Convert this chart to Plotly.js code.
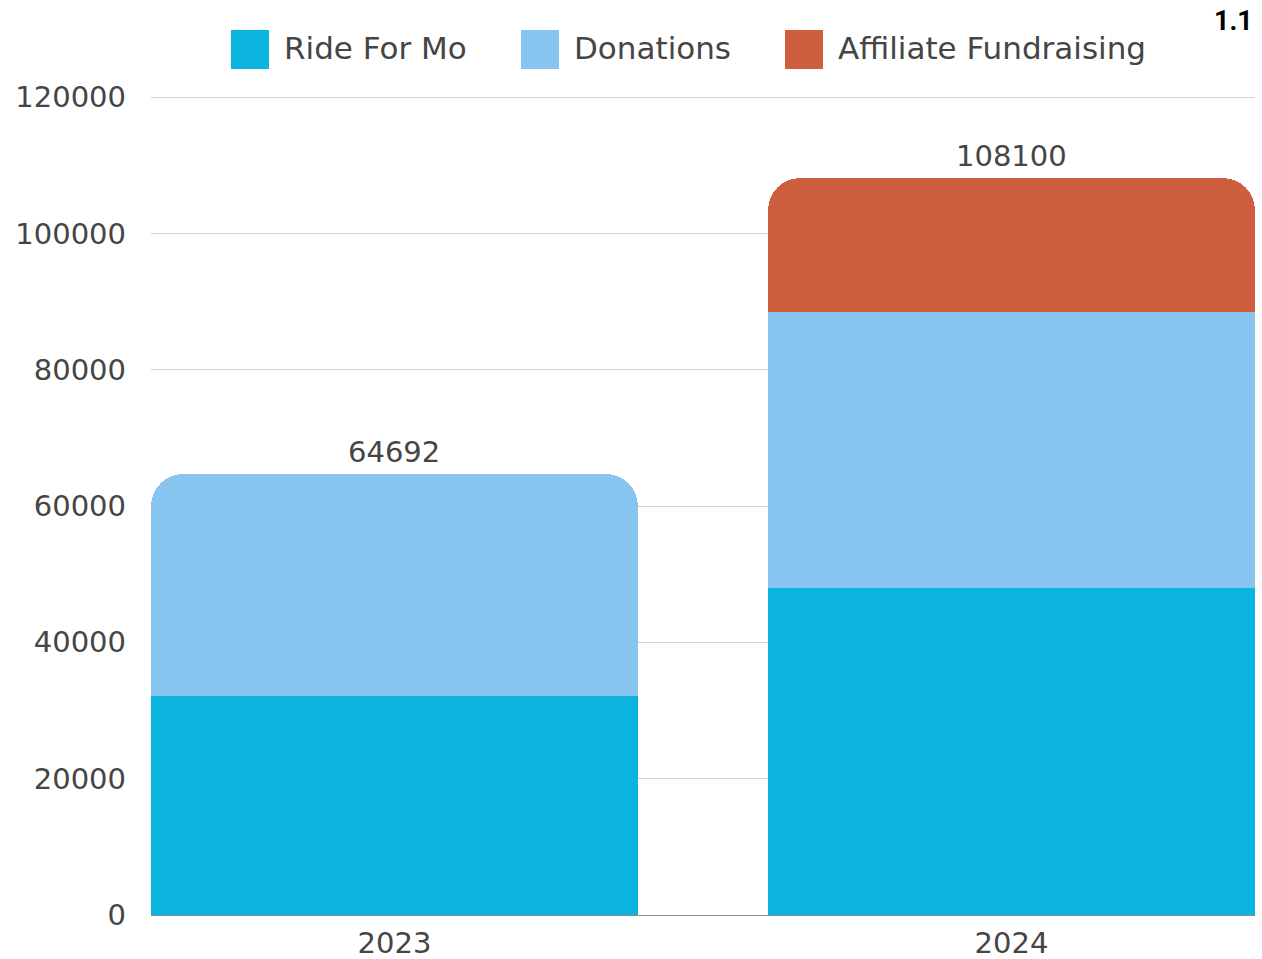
<!DOCTYPE html>
<html>
<head>
<meta charset="utf-8">
<script src="https://cdn.plot.ly/plotly-3.0.1.min.js"></script>
<style>
  html, body { margin: 0; padding: 0; background: #fff; }
  #plot { width: 1262px; height: 959px; }
</style>
</head>
<body>
<div id="plot"></div>
<script>
// data
const years = ['2023', '2024'];
const seriesNames = ['Ride For Mo', 'Donations', 'Affiliate Fundraising'];
const rideForMo = [32100, 48000];
const donations = [32592, 40450];
const affiliate = [0, 19650];
const seriesColors = ['#0AB4DE', '#87C5F0', '#CD5F3F'];
const yTicks = [0, 20000, 40000, 60000, 80000, 100000, 120000];

const seriesValues = [rideForMo, donations, affiliate];
const totals = years.map((_, i) => seriesValues.reduce((s, v) => s + v[i], 0));

const fontFamily = '"DejaVu Sans", "Open Sans", sans-serif';
const textColor = '#454545';

const plotData = seriesValues.map((vals, k) => ({
    type: 'bar',
    x: years,
    y: vals,
    name: seriesNames[k],
    marker: {color: seriesColors[k], line: {width: 0}},
    hoverinfo: 'name+y'
}));

// totals on top of each stack (x given as category index)
const annotations = years.map((yr, i) => ({
    x: i,
    y: totals[i],
    xref: 'x',
    yref: 'y',
    text: String(totals[i]),
    showarrow: false,
    yanchor: 'bottom',
    yshift: 3,
    font: {family: fontFamily, size: 29, color: textColor}
}));

// hand-made legend with large swatches (paper coords)
const plotW = 1104, plotH = 818;
const legendX = [231, 521, 785];
const shapes = [];
seriesNames.forEach((name, k) => {
    shapes.push({
        type: 'rect', xref: 'paper', yref: 'paper',
        x0: (legendX[k] - 151) / plotW, x1: (legendX[k] + 38 - 151) / plotW,
        y0: (915 - 70) / plotH, y1: (915 - 31) / plotH,
        fillcolor: seriesColors[k], line: {width: 0}
    });
    annotations.push({
        xref: 'paper', yref: 'paper',
        x: (legendX[k] + 51 - 151) / plotW, y: (915 - 49) / plotH,
        xanchor: 'left', yanchor: 'middle',
        text: name, showarrow: false,
        font: {family: fontFamily, size: 31, color: textColor}
    });
});

annotations.push({
    xref: 'paper', yref: 'paper',
    x: 1, y: (915 - 22) / plotH,
    xanchor: 'right', yanchor: 'middle',
    text: '<b>1.1</b>', showarrow: false,
    font: {family: '"Liberation Sans Narrow", "Roboto", sans-serif', size: 27, color: '#000'}
});

const layout = {
    width: 1262,
    height: 959,
    margin: {l: 151, r: 7, t: 96, b: 44},
    paper_bgcolor: '#fff',
    plot_bgcolor: '#fff',
    barmode: 'stack',
    bargap: 0.211,
    barcornerradius: 32,
    showlegend: false,
    font: {family: fontFamily, size: 29, color: textColor},
    xaxis: {
        type: 'category',
        range: [-0.3946, 1.3946],
        showgrid: false,
        showline: false,
        ticks: '',
        ticklabelstandoff: 8,
        tickfont: {size: 29, color: textColor}
    },
    yaxis: {
        range: [0, 120150],
        tickvals: yTicks,
        ticktext: yTicks.map(String),
        showgrid: true,
        gridcolor: '#d4d4d4',
        gridwidth: 1,
        zeroline: true,
        zerolinecolor: '#8c8c8c',
        zerolinewidth: 1,
        showline: false,
        ticks: '',
        ticklabelstandoff: 24,
        tickfont: {size: 29, color: textColor}
    },
    annotations: annotations,
    shapes: shapes
};

Plotly.newPlot('plot', plotData, layout, {displayModeBar: false, staticPlot: true});
</script>
</body>
</html>
